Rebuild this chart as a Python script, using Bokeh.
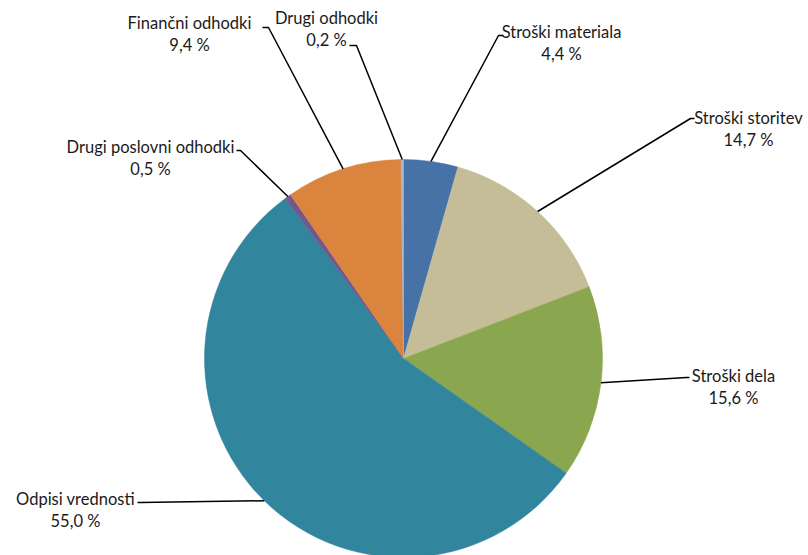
import numpy as np
from bokeh.plotting import figure
from bokeh.models import Range1d, ColumnDataSource
from bokeh.core.properties import value
from bokeh.embed import file_html
from bokeh.resources import INLINE

# ---- data ----
categories = ["Stroški materiala", "Stroški storitev", "Stroški dela", "Odpisi vrednosti",
              "Drugi poslovni odhodki", "Finančni odhodki", "Drugi odhodki"]
shares = [4.4, 14.7, 15.6, 55.0, 0.5, 9.4, 0.2]
colors = ["#4672A8", "#C4BD97", "#8AA64F", "#31859C", "#71588F", "#DB843D", "#A5B5CB"]

# ---- layout (screen pixels) ----
cx, cy, R = 403, 358, 199
label_pos = [(561, 31), (748, 117), (733, 375), (75, 498), (150, 146), (189, 22), (326, 17)]
elbows = [(498, 35), (690, 118), (686, 377), (140, 502), (240, 150), (268, 27), (356, 45)]
tick_ends = [(503, 35), (694, 118), (689, 377), (137, 502), (236, 150), (262, 27), (349, 45)]
line_gap = 22

total = sum(shares)
cum = np.cumsum([0] + shares) / total
start = np.pi / 2 - 2 * np.pi * cum[:-1]
end = np.pi / 2 - 2 * np.pi * cum[1:]
mid = (start + end) / 2
pct = [f"{v:.1f}".replace(".", ",") + " %" for v in shares]

W, H = 808, 555
p = figure(width=W, height=H, output_backend="svg", toolbar_location=None,
           x_range=Range1d(0, W), y_range=Range1d(-H, 0), min_border=0)
p.axis.visible = False
p.grid.visible = False
p.outline_line_color = None
p.background_fill_color = "white"

src = ColumnDataSource(dict(start=start, end=end, color=colors))
p.wedge(x=cx, y=-cy, radius=R, start_angle="start", end_angle="end", direction="clock",
        fill_color="color", line_color="color", line_width=0.5, source=src)

xs, ys = [], []
for i in range(len(shares)):
    ex = cx + R * np.cos(mid[i])
    ey = -cy + R * np.sin(mid[i])
    xs.append([ex, elbows[i][0], tick_ends[i][0]])
    ys.append([ey, -elbows[i][1], -tick_ends[i][1]])
p.multi_line(xs=xs, ys=ys, line_color="black", line_width=1.5)

lx = [lp[0] for lp in label_pos]
ly1 = [-lp[1] for lp in label_pos]
ly2 = [-(lp[1] + line_gap) for lp in label_pos]
common = dict(text_font=value("Lato"), text_font_size="16.5px", text_align="center",
              text_baseline="middle", text_color="#1a1a1a")
p.text(x=lx, y=ly1, text=categories, **common)
p.text(x=lx, y=ly2, text=pct, **common)

open("out.html", "w").write(file_html(p, INLINE))
